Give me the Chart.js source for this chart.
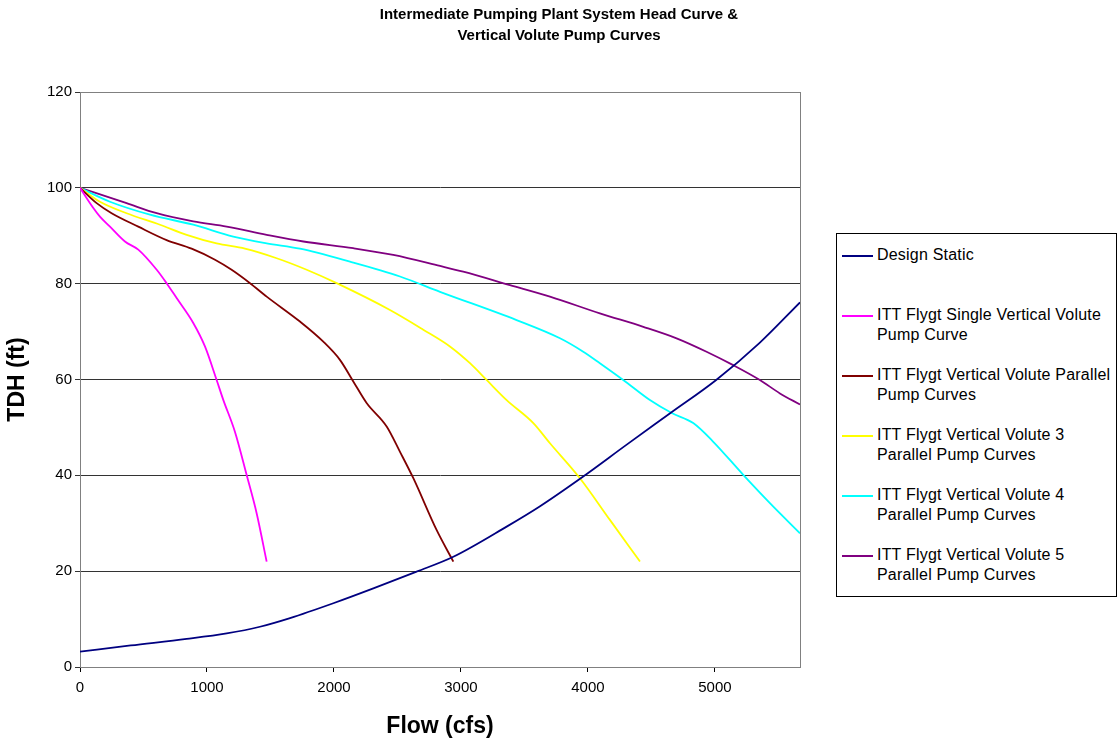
<!DOCTYPE html>
<html>
<head>
<meta charset="utf-8">
<script src="https://cdn.jsdelivr.net/npm/chart.js@4.4.1/dist/chart.umd.min.js"></script>
<style>
  html, body { margin: 0; padding: 0; background: #fff; }
  body { width: 1118px; height: 742px; position: relative; overflow: hidden; font-family: "Liberation Sans", Arial, sans-serif; }
  #wrap { position: absolute; left: 0; top: 0; width: 1118px; height: 742px; }
  #title { position: absolute; left: 0; top: 3px; width: 1118px; text-align: center; font-weight: bold; font-size: 15px; line-height: 21px; color: #000; }
  #legend { position: absolute; left: 836px; top: 233px; width: 281px; height: 364px; border: 1px solid #000; box-sizing: border-box; background: #fff; }
  .item { position: absolute; left: 5px; font-size: 16px; line-height: 20px; color: #000; }
  .swatch { position: absolute; left: 0; top: 10px; width: 31px; height: 0; border-top: 2px solid; }
  .txt { position: absolute; left: 35px; white-space: nowrap; letter-spacing: 0.2px; }
</style>
</head>
<body>
<div id="wrap"><canvas id="pumpChart" width="1118" height="742"></canvas></div>
<div id="title">Intermediate Pumping Plant System Head Curve &amp;<br>Vertical Volute Pump Curves</div>
<div id="legend"></div>
<script>
// flow (cfs) / head (ft) pairs for each curve
const designFlow = [0, 400, 840, 1155, 1417, 1654, 1995, 2310, 2651, 2940, 3360, 3620, 3960, 4300, 4650, 5010, 5350, 5670];
const designHead = [3.2, 4.5, 5.85, 7.0, 8.4, 10.2, 13.3, 16.4, 19.9, 23.0, 29.3, 33.5, 39.7, 46.3, 53.0, 59.9, 67.6, 76.1];

const singleFlow = [0, 105, 157, 236, 354, 459, 604, 682, 761, 892, 984, 1076, 1129, 1220, 1312, 1391, 1470];
const singleHead = [100, 95.8, 94.0, 91.9, 88.8, 87.1, 82.9, 80.1, 77.0, 71.8, 66.9, 59.9, 55.7, 49.1, 40.1, 32.1, 22.0];

const twoFlow = [0, 131, 249, 459, 682, 879, 1063, 1194, 1339, 1470, 1732, 1916, 2047, 2152, 2257, 2415, 2520, 2625, 2808, 2940];
const twoHead = [100, 96.8, 94.7, 91.9, 89.1, 87.3, 85.0, 82.9, 80.1, 77.3, 72.1, 67.9, 64.1, 59.6, 55.1, 50.2, 44.9, 39.4, 28.6, 22.0];

const threeFlow = [0, 157, 367, 630, 840, 1076, 1299, 1549, 1785, 2021, 2441, 2703, 2913, 3071, 3202, 3360, 3570, 3701, 3937, 4173, 4410];
const threeHead = [100, 97.1, 94.7, 92.3, 90.2, 88.4, 87.3, 85.3, 82.9, 80.1, 74.5, 70.4, 66.9, 63.4, 59.9, 55.7, 50.9, 46.7, 39.4, 30.7, 22.0];

const fourFlow = [0, 236, 551, 892, 1207, 1470, 1732, 2126, 2520, 2835, 3438, 3780, 3963, 4094, 4278, 4488, 4660, 4829, 4987, 5223, 5433, 5670];
const fourHead = [100, 97.1, 94.4, 92.3, 89.8, 88.4, 87.3, 84.6, 81.5, 78.3, 72.4, 68.6, 65.8, 63.4, 59.9, 55.7, 53.0, 50.9, 47.0, 40.1, 34.2, 27.9];

const fiveFlow = [0, 367, 604, 892, 1155, 1470, 1759, 2152, 2467, 2835, 3018, 3386, 3701, 4094, 4436, 4698, 4934, 5144, 5354, 5512, 5670];
const fiveHead = [100, 96.8, 94.7, 93.0, 91.9, 90.2, 88.8, 87.4, 86.0, 83.7, 82.5, 79.7, 77.3, 73.8, 71.0, 68.6, 65.8, 63.0, 59.9, 57.1, 54.8];

const seriesLabels = [
  ['Design Static'],
  ['ITT Flygt Single Vertical Volute', 'Pump Curve'],
  ['ITT Flygt Vertical Volute Parallel', 'Pump Curves'],
  ['ITT Flygt Vertical Volute 3', 'Parallel Pump Curves'],
  ['ITT Flygt Vertical Volute 4', 'Parallel Pump Curves'],
  ['ITT Flygt Vertical Volute 5', 'Parallel Pump Curves']
];
const seriesColors = ['#000080', '#FF00FF', '#800000', '#FFFF00', '#00FFFF', '#800080'];

const xTicks = [0, 1000, 2000, 3000, 4000, 5000];
const yTicks = [0, 20, 40, 60, 80, 100, 120];
const flowMax = 5670;

function pairs(xs, ys) {
  return xs.map((x, i) => ({ x: x, y: ys[i] }));
}

const curves = [
  pairs(designFlow, designHead),
  pairs(singleFlow, singleHead),
  pairs(twoFlow, twoHead),
  pairs(threeFlow, threeHead),
  pairs(fourFlow, fourHead),
  pairs(fiveFlow, fiveHead)
];

const font = "'Liberation Sans', Arial, sans-serif";

// gray frame around the plot area (top and right edges)
const frame = {
  id: 'frame',
  beforeDatasetsDraw(chart) {
    const a = chart.chartArea, c = chart.ctx;
    c.save();
    c.strokeStyle = '#808080';
    c.lineWidth = 1;
    c.strokeRect(a.left + 0.5, a.top + 0.5, a.right - a.left, a.bottom - a.top);
    c.restore();
  }
};

new Chart(document.getElementById('pumpChart'), {
  type: 'scatter',
  data: {
    datasets: curves.map((pts, i) => ({
      label: seriesLabels[i].join(' '),
      data: pts,
      showLine: true,
      borderColor: seriesColors[i],
      backgroundColor: seriesColors[i],
      borderWidth: 1.8,
      pointRadius: 0,
      cubicInterpolationMode: 'monotone'
    }))
  },
  options: {
    responsive: false,
    animation: false,
    layout: { padding: { left: 0, top: 92, right: 318, bottom: 0 } },
    plugins: {
      legend: { display: false },
      tooltip: { enabled: false }
    },
    scales: {
      x: {
        type: 'linear',
        min: 0,
        max: flowMax,
        afterBuildTicks: s => { s.ticks = xTicks.map(v => ({ value: v })); },
        afterFit: s => { s.height = 75; },
        grid: { drawOnChartArea: false, drawTicks: true, tickLength: 5, color: '#000' },
        border: { color: '#000', width: 1 },
        ticks: { color: '#000', padding: 7, font: { family: font, size: 15 }, maxRotation: 0, callback: v => String(v) },
        title: { display: true, text: 'Flow (cfs)', color: '#000', font: { family: font, size: 23, weight: 'bold' }, padding: { top: 0, bottom: 2 } }
      },
      y: {
        type: 'linear',
        min: 0,
        max: 120,
        afterBuildTicks: s => { s.ticks = yTicks.map(v => ({ value: v })); },
        afterFit: s => { s.width = 80; },
        grid: { color: '#333', lineWidth: 1, tickLength: 5 },
        border: { color: '#000', width: 1 },
        ticks: { color: '#000', padding: 3, font: { family: font, size: 15 } },
        title: { display: true, text: 'TDH (ft)', color: '#000', font: { family: font, size: 23, weight: 'bold' }, padding: { top: 4, bottom: 0 } }
      }
    }
  },
  plugins: [frame]
});

// legend entries, one line sample each, with wrapped labels
const legend = document.getElementById('legend');
const itemTops = [11, 71, 131, 191, 251, 311];
seriesLabels.forEach((lines, i) => {
  const item = document.createElement('div');
  item.className = 'item';
  item.style.top = itemTops[i] + 'px';
  const sw = document.createElement('div');
  sw.className = 'swatch';
  sw.style.borderColor = seriesColors[i];
  const t = document.createElement('div');
  t.className = 'txt';
  t.innerHTML = lines.join('<br>');
  item.appendChild(sw);
  item.appendChild(t);
  legend.appendChild(item);
});
</script>
</body>
</html>
